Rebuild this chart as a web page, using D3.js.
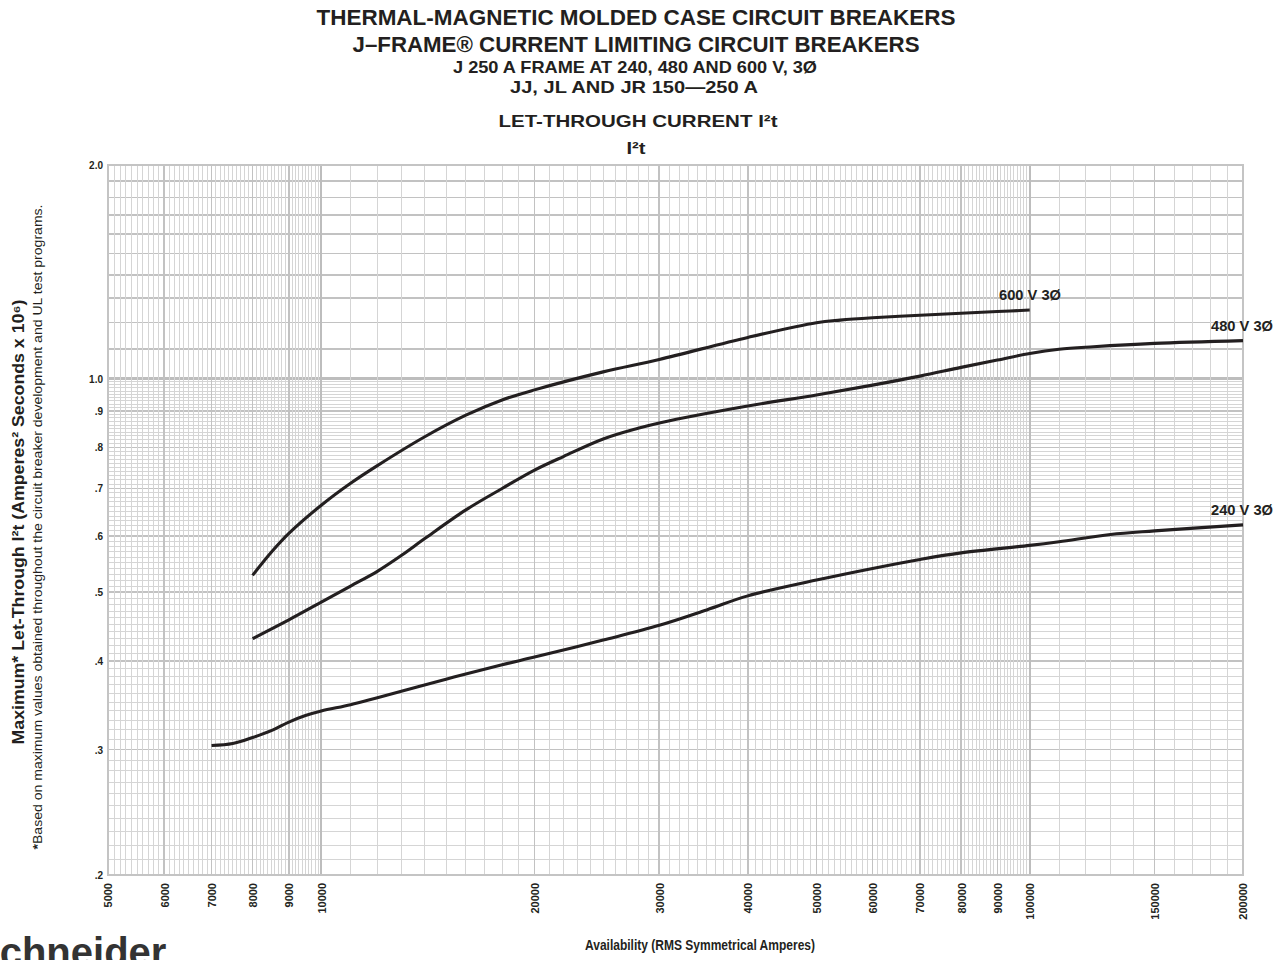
<!DOCTYPE html>
<html>
<head>
<meta charset="utf-8">
<script src="https://cdn.jsdelivr.net/npm/d3@7"></script>
<style>
  html, body { margin: 0; padding: 0; background: #fff; }
  svg { display: block; font-family: "Liberation Sans", Arial, Helvetica, sans-serif; }
</style>
</head>
<body>
<svg id="chart" width="1286" height="960"></svg>
<script>
// ---------- data ----------
const xTickValues = [5000, 6000, 7000, 8000, 9000, 10000, 20000, 30000, 40000, 50000, 60000, 70000, 80000, 90000, 100000, 150000, 200000];
const yTickValues = [0.2, 0.3, 0.4, 0.5, 0.6, 0.7, 0.8, 0.9, 1.0, 2.0];
const yTickLabels = [".2", ".3", ".4", ".5", ".6", ".7", ".8", ".9", "1.0", "2.0"];

const amps600 = [8000, 8500, 9000, 10000, 11000, 12000, 14000, 16000, 18000, 20000, 25000, 30000, 40000, 50000, 54000, 60000, 70000, 80000, 90000, 100000];
const i2t600  = [0.528, 0.569, 0.605, 0.663, 0.712, 0.754, 0.828, 0.888, 0.933, 0.964, 1.022, 1.064, 1.143, 1.199, 1.209, 1.218, 1.228, 1.236, 1.243, 1.249];

const amps480 = [8000, 9000, 10000, 11000, 12000, 13000, 14000, 16000, 18000, 20000, 22000, 25000, 28000, 30000, 40000, 50000, 60000, 70000, 80000, 90000, 100000, 110000, 123000, 150000, 200000];
const i2t480  = [0.430, 0.457, 0.484, 0.510, 0.535, 0.564, 0.595, 0.653, 0.700, 0.743, 0.777, 0.822, 0.851, 0.866, 0.915, 0.948, 0.979, 1.008, 1.037, 1.062, 1.085, 1.100, 1.109, 1.121, 1.131];

const amps240 = [7000, 7500, 8000, 8500, 9000, 9500, 10000, 11000, 12000, 15000, 18000, 20000, 25000, 30000, 35000, 40000, 50000, 60000, 70000, 80000, 100000, 110000, 130000, 150000, 200000];
const i2t240  = [0.304, 0.306, 0.312, 0.319, 0.328, 0.335, 0.340, 0.347, 0.355, 0.377, 0.395, 0.405, 0.428, 0.449, 0.472, 0.494, 0.520, 0.540, 0.556, 0.568, 0.582, 0.589, 0.603, 0.610, 0.622];

const seriesNames = ["600 V 3Ø", "480 V 3Ø", "240 V 3Ø"];

const titleLines = [
  "THERMAL-MAGNETIC MOLDED CASE CIRCUIT BREAKERS",
  "J–FRAME® CURRENT LIMITING CIRCUIT BREAKERS",
  "J 250 A FRAME AT 240, 480 AND 600 V, 3Ø",
  "JJ, JL AND JR 150—250 A",
  "LET-THROUGH CURRENT I²t",
  "I²t"
];

// ---------- setup ----------
const svg = d3.select("#chart");
const L = 108, R = 1243, T = 165, B = 874.5;
const x = d3.scaleLog().domain([5000, 200000]).range([L, R]);
const y = d3.scaleLog().domain([0.2, 2.0]).range([B, T]);

// ---------- grid ----------
const xGrid = [];
for (let v = 5000; v < 10000; v += 100) xGrid.push(v);
for (let v = 10000; v < 100000; v += 1000) xGrid.push(v);
for (let v = 100000; v <= 200000; v += 10000) xGrid.push(v);
const yGrid = [];
for (let k = 20; k < 100; k++) yGrid.push(k / 100);
for (let k = 10; k <= 20; k++) yGrid.push(k / 10);

function xClass(v) {
  if (v === 10000 || v === 100000) return "major";
  if (xTickValues.includes(v)) return "mid";
  return "minor";
}
function yClass(v) {
  if (Math.abs(v - 1) < 1e-9) return "major";
  if (Math.abs(v * 10 - Math.round(v * 10)) < 1e-9) return "mid";
  return "minor";
}
const gStyle = {
  minor: { c: "#d5d5d5", w: 1 },
  mid:   { c: "#c2c2c2", w: 1.6 },
  major: { c: "#bdbdbd", w: 2.2 }
};
const order = { minor: 0, mid: 1, major: 2 };

const grid = svg.append("g").attr("shape-rendering", "crispEdges");
grid.selectAll("line.h").data(yGrid.slice().sort((a, b) => order[yClass(a)] - order[yClass(b)]))
  .join("line").attr("class", "h")
  .attr("x1", L).attr("x2", R)
  .attr("y1", d => y(d)).attr("y2", d => y(d))
  .attr("stroke", d => gStyle[yClass(d)].c)
  .attr("stroke-width", d => gStyle[yClass(d)].w);
grid.selectAll("line.v").data(xGrid.slice().sort((a, b) => order[xClass(a)] - order[xClass(b)]))
  .join("line").attr("class", "v")
  .attr("y1", T).attr("y2", B)
  .attr("x1", d => x(d)).attr("x2", d => x(d))
  .attr("stroke", d => gStyle[xClass(d)].c)
  .attr("stroke-width", d => gStyle[xClass(d)].w);

svg.append("rect")
  .attr("x", L).attr("y", T).attr("width", R - L).attr("height", B - T)
  .attr("fill", "none").attr("stroke", "#c4c4c4").attr("stroke-width", 2)
  .attr("shape-rendering", "crispEdges");

// ---------- axes labels ----------
const xAxis = d3.axisBottom(x).tickValues(xTickValues).tickSize(0).tickFormat(d3.format("d"));
const gx = svg.append("g").attr("transform", `translate(0,${B})`).call(xAxis);
gx.select(".domain").remove();
gx.selectAll("text")
  .attr("transform", "rotate(-90)")
  .attr("x", -8.5).attr("y", 0).attr("dy", "0.36em")
  .attr("text-anchor", "end")
  .attr("fill", "#231f20")
  .style("font-size", "11px").style("font-weight", "bold")
  .style("font-family", "'Liberation Sans', Arial, sans-serif");

const yAxis = d3.axisLeft(y).tickValues(yTickValues).tickSize(0)
  .tickFormat((d, i) => yTickLabels[i]);
const gy = svg.append("g").attr("transform", `translate(${L},0)`).call(yAxis);
gy.select(".domain").remove();
gy.selectAll("text")
  .attr("x", -5).attr("dy", "0.35em")
  .attr("fill", "#231f20")
  .style("font-size", "10px").style("font-weight", "bold")
  .style("font-family", "'Liberation Sans', Arial, sans-serif");

// ---------- curves ----------
const line = d3.line().x(d => x(d[0])).y(d => y(d[1])).curve(d3.curveCatmullRom.alpha(0.5));
const series = [
  d3.zip(amps600, i2t600),
  d3.zip(amps480, i2t480),
  d3.zip(amps240, i2t240)
];
svg.append("g").selectAll("path").data(series).join("path")
  .attr("d", line)
  .attr("fill", "none")
  .attr("stroke", "#231f20")
  .attr("stroke-width", 3.1)
  .attr("stroke-linejoin", "round");

// curve labels
const labelPos = [
  { x: 999, y: 300, w: 62 },
  { x: 1211, y: 331, w: 62 },
  { x: 1211, y: 515, w: 62 }
];
svg.append("g").selectAll("text").data(seriesNames).join("text")
  .attr("x", (d, i) => labelPos[i].x)
  .attr("y", (d, i) => labelPos[i].y)
  .attr("textLength", (d, i) => labelPos[i].w)
  .attr("lengthAdjust", "spacingAndGlyphs")
  .attr("fill", "#231f20")
  .style("font-size", "14px").style("font-weight", "bold")
  .text(d => d);

// ---------- titles ----------
const titleSpec = [
  { cx: 636, y: 25, size: 22, w: 639 },
  { cx: 636, y: 52, size: 22, w: 567 },
  { cx: 635, y: 73, size: 16.5, w: 364 },
  { cx: 634, y: 93, size: 16.5, w: 248 },
  { cx: 638, y: 127, size: 16.5, w: 279 },
  { cx: 636, y: 154, size: 16.5, w: 19 }
];
svg.append("g").selectAll("text").data(titleLines).join("text")
  .attr("x", (d, i) => titleSpec[i].cx)
  .attr("y", (d, i) => titleSpec[i].y)
  .attr("text-anchor", "middle")
  .attr("textLength", (d, i) => titleSpec[i].w)
  .attr("lengthAdjust", "spacingAndGlyphs")
  .attr("fill", "#231f20")
  .style("font-size", (d, i) => titleSpec[i].size + "px")
  .style("font-weight", "bold")
  .text(d => d);

// axis titles
svg.append("text")
  .attr("transform", "translate(24,522) rotate(-90)")
  .attr("text-anchor", "middle")
  .attr("textLength", 445).attr("lengthAdjust", "spacingAndGlyphs")
  .attr("fill", "#231f20")
  .style("font-size", "16.5px").style("font-weight", "bold")
  .text("Maximum* Let-Through I²t (Amperes² Seconds x 10⁶)");

const sub = svg.append("text")
  .attr("transform", "translate(42,527) rotate(-90)")
  .attr("text-anchor", "middle")
  .attr("textLength", 645).attr("lengthAdjust", "spacingAndGlyphs")
  .attr("fill", "#231f20")
  .style("font-size", "12.5px");
sub.append("tspan").style("font-weight", "bold").text("*");
sub.append("tspan").text("Based on maximum values obtained throughout the circuit breaker development and UL test programs.");

svg.append("text")
  .attr("x", 700).attr("y", 950)
  .attr("text-anchor", "middle")
  .attr("textLength", 230).attr("lengthAdjust", "spacingAndGlyphs")
  .attr("fill", "#231f20")
  .style("font-size", "14.5px").style("font-weight", "bold")
  .text("Availability (RMS Symmetrical Amperes)");

// logo fragment (cut off at the page edge, as in the reference)
svg.append("text")
  .attr("x", -27).attr("y", 966)
  .attr("fill", "#333333")
  .style("font-size", "40px").style("font-weight", "bold")
  .text("Schneider");
</script>
</body>
</html>
